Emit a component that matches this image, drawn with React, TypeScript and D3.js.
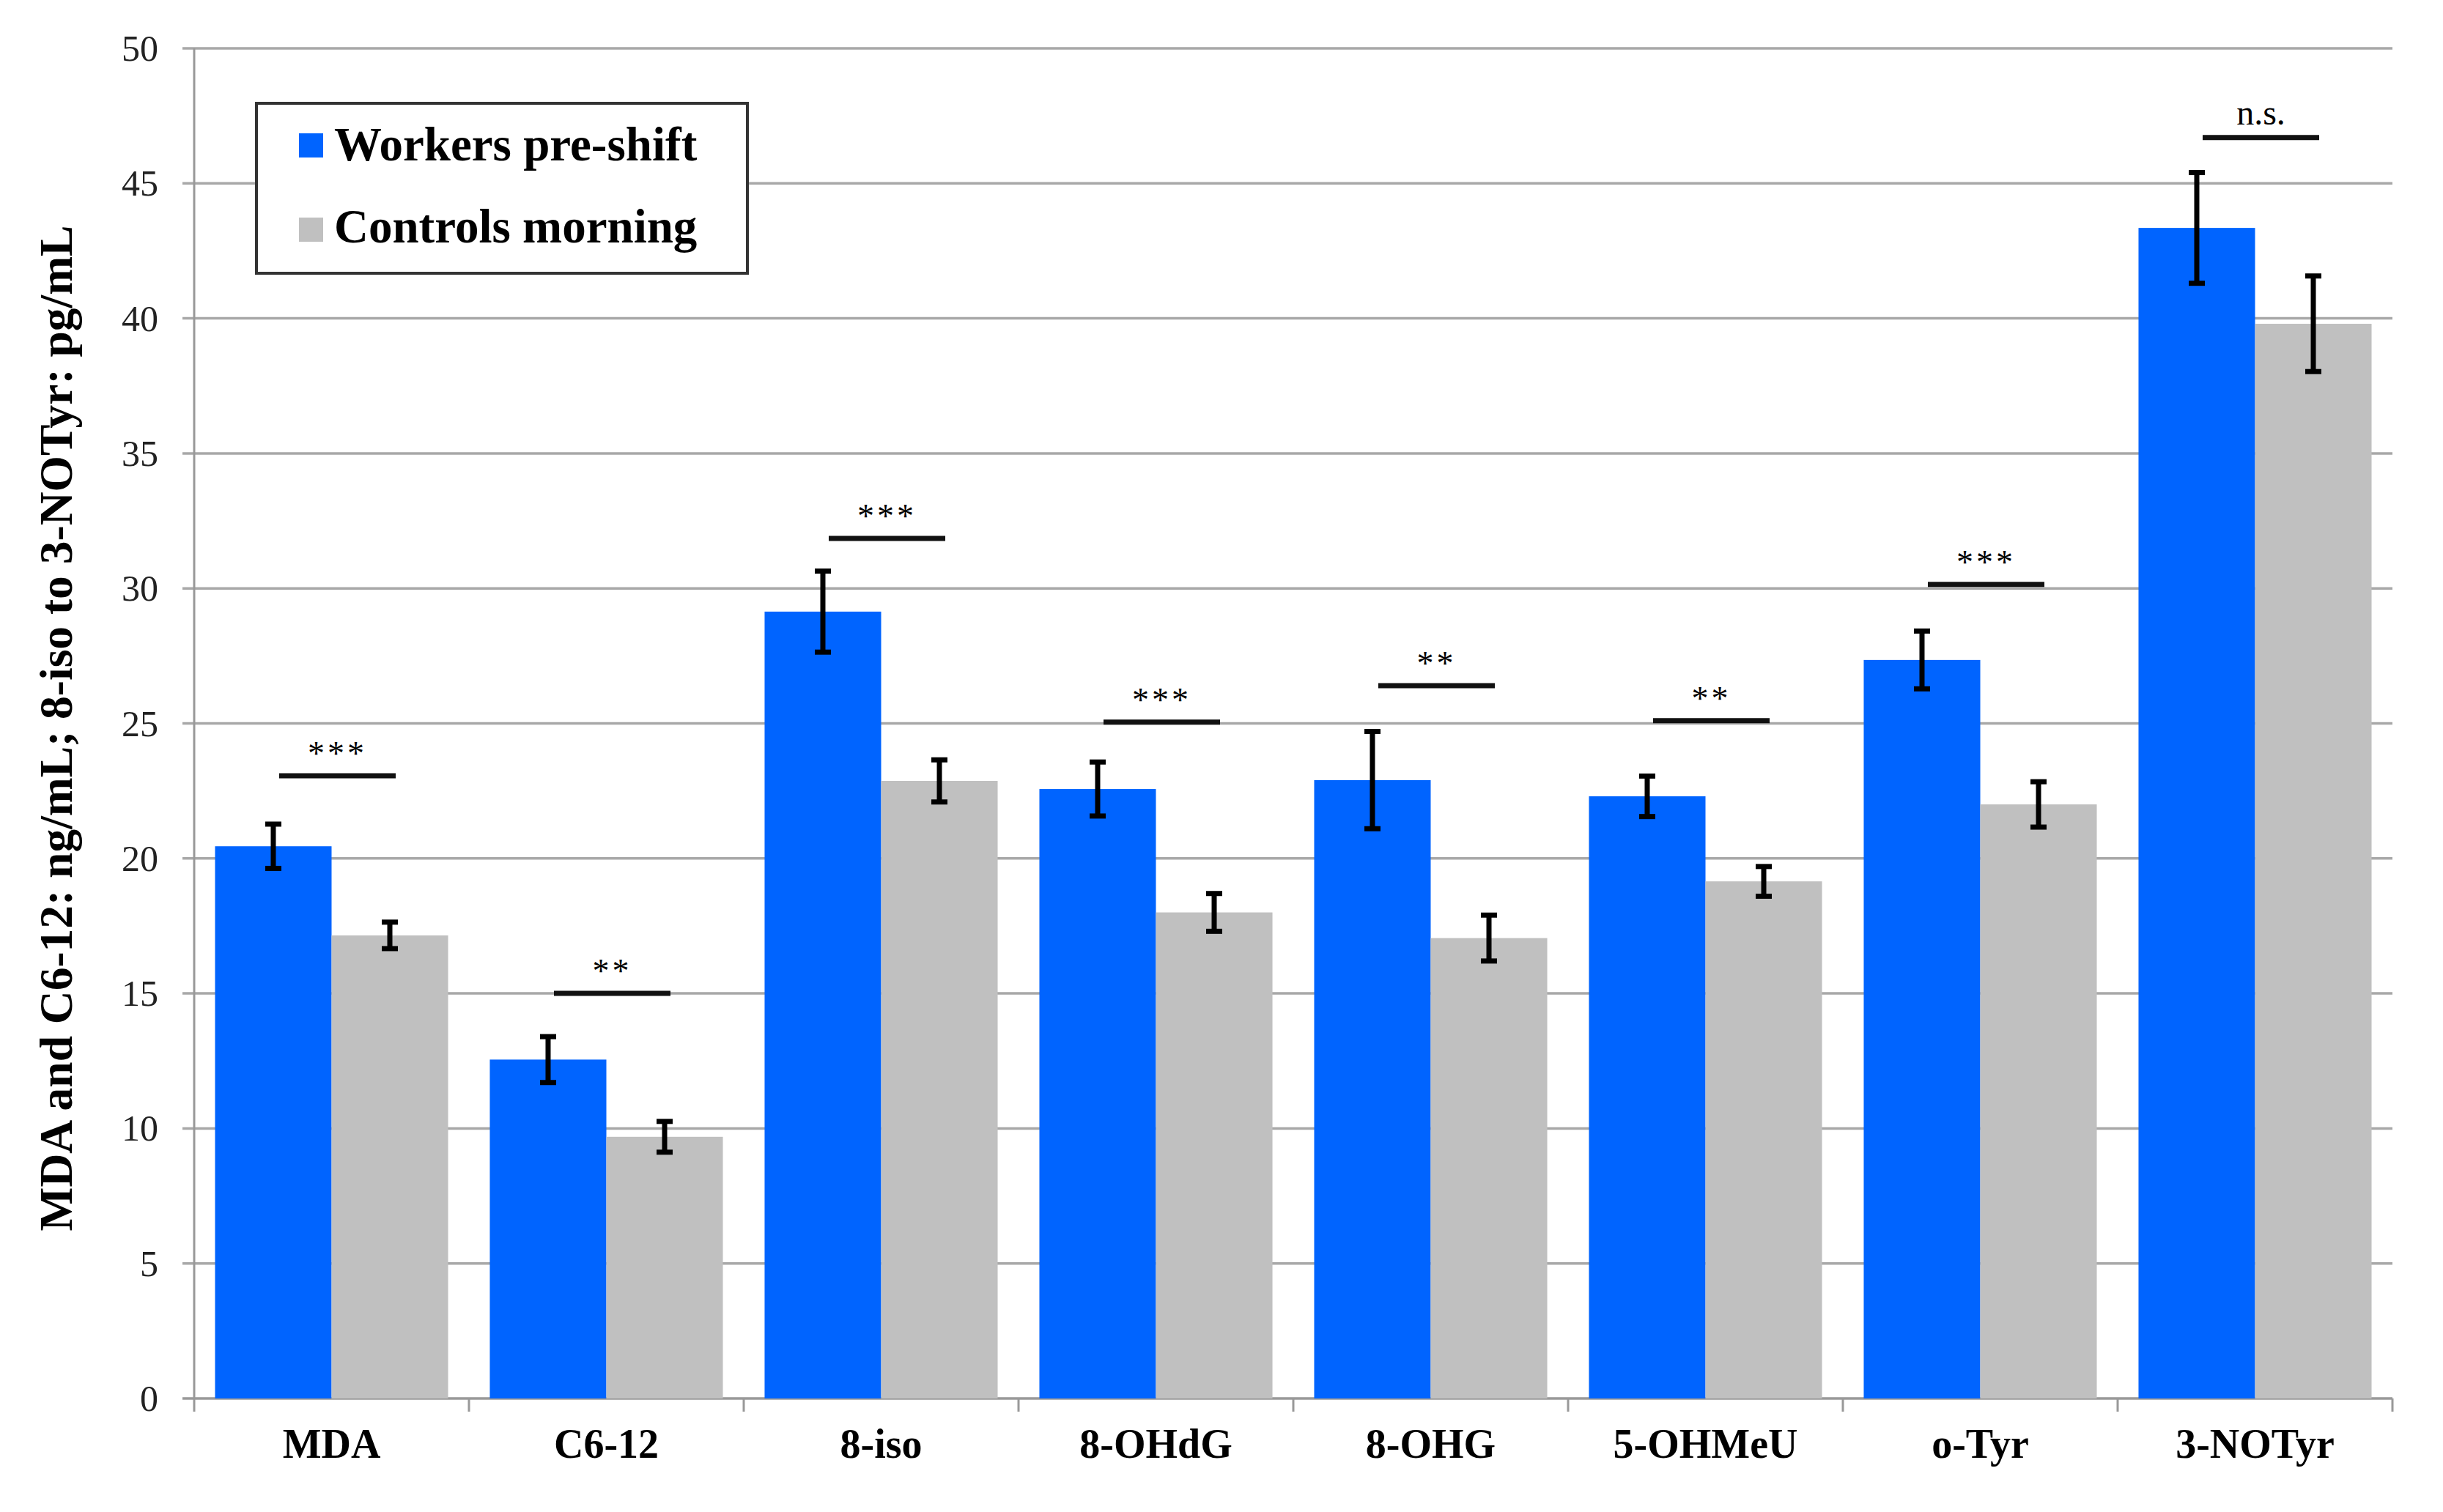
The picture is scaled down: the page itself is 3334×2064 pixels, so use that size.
import * as d3 from "d3"

const categories = ["MDA", "C6-12", "8-iso", "8-OHdG", "8-OHG", "5-OHMeU", "o-Tyr", "3-NOTyr"]
const workers = [20.45, 12.55, 29.14, 22.57, 22.9, 22.3, 27.35, 43.35]
const workersErr = [0.82, 0.85, 1.5, 1.0, 1.8, 0.75, 1.07, 2.05]
const controls = [17.15, 9.69, 22.87, 18.0, 17.05, 19.15, 22.0, 39.8]
const controlsErr = [0.49, 0.57, 0.78, 0.7, 0.85, 0.55, 0.84, 1.77]
const sigLabels = ["***", "**", "***", "***", "**", "**", "***", "n.s."]
const sigLevel = [23.06, 15.0, 31.85, 25.05, 26.4, 25.1, 30.15, 46.7]
const yTicks = [0, 5, 10, 15, 20, 25, 30, 35, 40, 45, 50]
const seriesNames = ["Workers pre-shift", "Controls morning"]
const seriesColors = ["#0064ff", "#c0c0c0"]

const W = 3334
const H = 2064
const font = "'Liberation Serif', 'Times New Roman', serif"

export default function App() {
  const x = d3.scaleBand().domain(categories).range([265, 3265]).paddingInner(0).paddingOuter(0)
  const xi = d3.scaleBand().domain(["w", "c"]).range([0, x.bandwidth()]).paddingInner(0).paddingOuter(0.179)
  const y = d3.scaleLinear().domain([0, 50]).range([1909, 66])

  const rows = categories.map((c, i) => ({
    c,
    bars: [
      { key: "w", v: workers[i], e: workersErr[i], color: seriesColors[0] },
      { key: "c", v: controls[i], e: controlsErr[i], color: seriesColors[1] },
    ],
  }))

  const bw = xi.bandwidth()
  const cap = 11

  return (
    <div style={{ position: "absolute", left: 0, top: 0 }}>
      <svg width={W} height={H} viewBox={`0 0 ${W} ${H}`} xmlns="http://www.w3.org/2000/svg" style={{ display: "block", background: "#fff" }}>
        {/* gridlines + y ticks */}
        {yTicks.map(t => (
          <g key={t}>
            <line x1={249} x2={3265} y1={y(t)} y2={y(t)} stroke={t === 0 ? "#999" : "#a8a8a8"} strokeWidth={3.5} />
            <text x={216} y={y(t) + 17} textAnchor="end" fontFamily={font} fontSize={50} fill="#222">{t}</text>
          </g>
        ))}

        {/* y axis line */}
        <line x1={265} x2={265} y1={y(50)} y2={y(0) + 18} stroke="#999" strokeWidth={3} />

        {/* category boundary ticks */}
        {categories.map(c => (
          <line key={c} x1={(x(c) as number) + x.bandwidth()} x2={(x(c) as number) + x.bandwidth()}
            y1={y(0)} y2={y(0) + 18} stroke="#999" strokeWidth={3} />
        ))}

        {/* bars */}
        {rows.map(r => (
          <g key={r.c} transform={`translate(${x(r.c)},0)`}>
            {r.bars.map(b => (
              <rect key={b.key} x={xi(b.key)} y={y(b.v)} width={bw} height={y(0) - y(b.v)} fill={b.color} />
            ))}
          </g>
        ))}

        {/* error bars */}
        {rows.map(r => (
          <g key={r.c + "-err"} transform={`translate(${x(r.c)},0)`}>
            {r.bars.map(b => {
              const cx = (xi(b.key) as number) + bw / 2
              return (
                <g key={b.key} stroke="#000" strokeWidth={7}>
                  <line x1={cx} x2={cx} y1={y(b.v + b.e)} y2={y(b.v - b.e)} />
                  <line x1={cx - cap} x2={cx + cap} y1={y(b.v + b.e)} y2={y(b.v + b.e)} />
                  <line x1={cx - cap} x2={cx + cap} y1={y(b.v - b.e)} y2={y(b.v - b.e)} />
                </g>
              )
            })}
          </g>
        ))}

        {/* significance markers */}
        {categories.map((c, i) => {
          const cx = (x(c) as number) + x.bandwidth() / 2 + 8
          const ly = y(sigLevel[i])
          const ns = sigLabels[i] === "n.s."
          return (
            <g key={c + "-sig"}>
              <line x1={cx - bw / 2} x2={cx + bw / 2} y1={ly} y2={ly} stroke="#111" strokeWidth={7} />
              <text x={cx} y={ly - (ns ? 18 : 15)} textAnchor="middle" fontFamily={font}
                fontSize={ns ? 48 : 46} letterSpacing={ns ? 0 : 4} fill="#000">{sigLabels[i]}</text>
            </g>
          )
        })}

        {/* category labels */}
        {categories.map(c => (
          <text key={c + "-lab"} x={(x(c) as number) + x.bandwidth() / 2} y={1990} textAnchor="middle"
            fontFamily={font} fontWeight="bold" fontSize={56} fill="#000">{c}</text>
        ))}

        {/* y axis title */}
        <text transform="translate(98,994) rotate(-90)" textAnchor="middle" fontFamily={font}
          fontWeight="bold" fontSize={63.5} fill="#000">MDA and C6-12: ng/mL; 8-iso to 3-NOTyr: pg/mL</text>

        {/* legend */}
        <rect x={350} y={141} width={670} height={232} fill="#fff" stroke="#333" strokeWidth={4} />
        {seriesNames.map((n, i) => (
          <g key={n}>
            <rect x={408} y={182 + i * 115} width={33} height={33} fill={seriesColors[i]} />
            <text x={456} y={219 + i * 112} fontFamily={font} fontWeight="bold" fontSize={65} fill="#000">{n}</text>
          </g>
        ))}
      </svg>
    </div>
  )
}
